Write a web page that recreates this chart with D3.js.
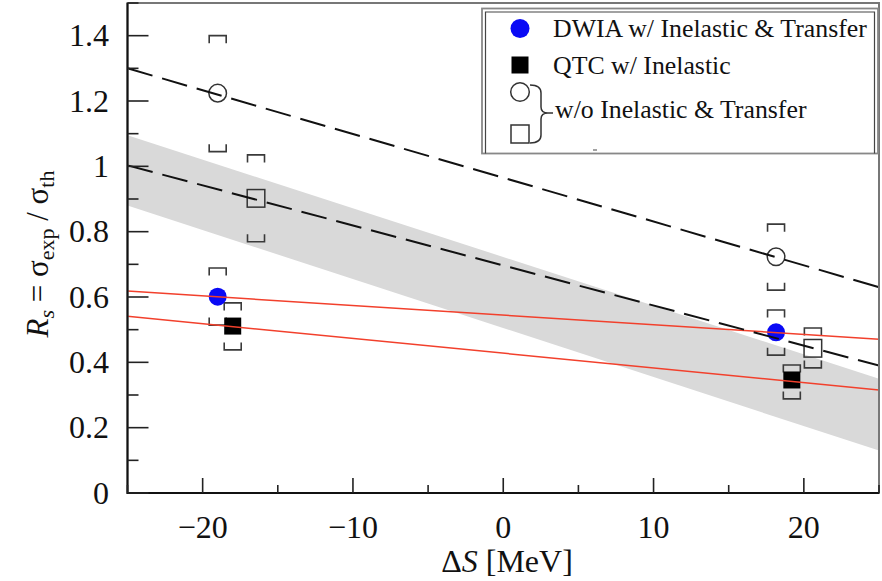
<!DOCTYPE html>
<html>
<head>
<meta charset="utf-8">
<script src="https://cdn.jsdelivr.net/npm/d3@7"></script>
<style>
  html, body { margin: 0; padding: 0; background: #fff; }
  svg { display: block; }
</style>
</head>
<body>
<svg id="chart" width="882" height="581" font-family="'Liberation Serif', 'Times New Roman', Times, serif"></svg>
<script>
// ---- data ----
const xTicksMajor = [-20, -10, 0, 10, 20];
const xTicksMinor = [-25, -15, -5, 5, 15, 25];
const xTickLabels = ["\u221220", "\u221210", "0", "10", "20"];
const yTicksMajor = [0, 0.2, 0.4, 0.6, 0.8, 1.0, 1.2, 1.4];
const yTicksMinor = [0.1, 0.3, 0.5, 0.7, 0.9, 1.1, 1.3, 1.5];
const yTickLabels = ["0", "0.2", "0.4", "0.6", "0.8", "1", "1.2", "1.4"];

// DWIA w/ Inelastic & Transfer (filled blue circles)
const dwiaX = [-19.0, 18.15];
const dwiaY = [0.601, 0.492];
const dwiaLo = [0.514, 0.422];
const dwiaHi = [0.689, 0.560];
// QTC w/ Inelastic (filled black squares)
const qtcX = [-18.0, 19.2];
const qtcY = [0.511, 0.346];
const qtcLo = [0.438, 0.288];
const qtcHi = [0.582, 0.392];
// w/o Inelastic & Transfer : open circles (DWIA)
const woCircX = [-19.0, 18.15];
const woCircY = [1.224, 0.723];
const woCircLo = [1.045, 0.621];
const woCircHi = [1.400, 0.823];
// w/o Inelastic & Transfer : open squares (QTC)
const woSqX = [-16.45, 20.6];
const woSqY = [0.902, 0.443];
const woSqLo = [0.769, 0.383];
const woSqHi = [1.035, 0.505];

// straight-line fits, evaluated at the axis ends
const lineX = [-25, 25];
const dashUpperY = [1.300, 0.630];
const dashLowerY = [1.003, 0.390];
const redUpperY = [0.618, 0.471];
const redLowerY = [0.541, 0.315];
const bandUpperY = [1.095, 0.350];
const bandLowerY = [0.880, 0.130];

const legendLabels = ["DWIA w/ Inelastic & Transfer", "QTC w/ Inelastic", "w/o Inelastic & Transfer"];

// ---- layout ----
const L = 127.5, R = 879, T = 3, B = 493;
const x = d3.scaleLinear().domain([-25, 25]).range([L, R]);
const y = d3.scaleLinear().domain([0, 1.5]).range([B, T]);
const FONT = "'Liberation Serif', 'Times New Roman', Times, serif";

const svg = d3.select("#chart");
svg.append("defs").append("clipPath").attr("id", "clip")
  .append("rect").attr("x", L).attr("y", T).attr("width", R - L).attr("height", B - T);
const plot = svg.append("g").attr("clip-path", "url(#clip)");

// band
const bandData = lineX.map((d, i) => ({x: d, lo: bandLowerY[i], hi: bandUpperY[i]}));
plot.append("path")
  .attr("d", d3.area().x(d => x(d.x)).y0(d => y(d.lo)).y1(d => y(d.hi))(bandData))
  .attr("fill", "#d9d9d9");

// error caps
function caps(xs, lo, hi, halfW) {
  const g = plot.append("g").attr("fill", "none").attr("stroke", "#3a3a3a").attr("stroke-width", 1.6);
  const leg = 7.5;
  xs.forEach((xv, i) => {
    const cx = x(xv), yh = y(hi[i]), yl = y(lo[i]);
    g.append("path").attr("d", `M${cx - halfW},${yh + leg}V${yh}H${cx + halfW}V${yh + leg}`);
    g.append("path").attr("d", `M${cx - halfW},${yl - leg}V${yl}H${cx + halfW}V${yl - leg}`);
  });
}
caps(woCircX, woCircLo, woCircHi, 8.5);
caps(woSqX, woSqLo, woSqHi, 8.5);
caps(dwiaX, dwiaLo, dwiaHi, 8.5);
caps(qtcX, qtcLo, qtcHi, 8.5);

// markers
const mk = plot.append("g");
woCircX.forEach((xv, i) => mk.append("circle").attr("cx", x(xv)).attr("cy", y(woCircY[i])).attr("r", 8.8)
  .attr("fill", "none").attr("stroke", "#333").attr("stroke-width", 1.5));
woSqX.forEach((xv, i) => mk.append("rect").attr("x", x(xv) - 8.8).attr("y", y(woSqY[i]) - 8.8)
  .attr("width", 17.6).attr("height", 17.6).attr("fill", "none").attr("stroke", "#333").attr("stroke-width", 1.5));
dwiaX.forEach((xv, i) => mk.append("circle").attr("cx", x(xv)).attr("cy", y(dwiaY[i])).attr("r", 9)
  .attr("fill", "#0a0af5"));
qtcX.forEach((xv, i) => mk.append("rect").attr("x", x(xv) - 8.5).attr("y", y(qtcY[i]) - 8.5)
  .attr("width", 17).attr("height", 17).attr("fill", "#000"));

// lines
const ln = d3.line().x(d => x(d[0])).y(d => y(d[1]));
function drawLine(ys, color, w, dash) {
  const p = plot.append("path").attr("d", ln(lineX.map((d, i) => [d, ys[i]])))
    .attr("fill", "none").attr("stroke", color).attr("stroke-width", w);
  if (dash) p.attr("stroke-dasharray", dash);
}
drawLine(redUpperY, "#f2402c", 1.5);
drawLine(redLowerY, "#f2402c", 1.5);
drawLine(dashUpperY, "#111", 2, "26,10");
drawLine(dashLowerY, "#111", 2, "26,10");

// frame
svg.append("rect").attr("x", L).attr("y", T).attr("width", R - L).attr("height", B - T)
  .attr("fill", "none").attr("stroke", "#777").attr("stroke-width", 2);
svg.append("path").attr("d", `M${L},${T}V${B}H${R}`).attr("fill", "none").attr("stroke", "#111").attr("stroke-width", 2);

// ticks
const tk = svg.append("g").attr("stroke", "#222").attr("stroke-width", 1.6);
yTicksMajor.forEach(v => tk.append("line").attr("x1", L).attr("x2", L + 21).attr("y1", y(v)).attr("y2", y(v)));
yTicksMinor.forEach(v => tk.append("line").attr("x1", L).attr("x2", L + 11).attr("y1", y(v)).attr("y2", y(v)));
xTicksMajor.forEach(v => tk.append("line").attr("x1", x(v)).attr("x2", x(v)).attr("y1", B).attr("y2", B - 15));
xTicksMinor.forEach(v => tk.append("line").attr("x1", x(v)).attr("x2", x(v)).attr("y1", B).attr("y2", B - 8));

function txt(sel) { return sel.append("text").attr("font-family", FONT).attr("fill", "#111"); }

// tick labels
yTicksMajor.forEach((v, i) => txt(svg).attr("x", 109).attr("y", y(v) + 10.5)
  .attr("text-anchor", "end").attr("font-size", 32).text(yTickLabels[i]));
xTicksMajor.forEach((v, i) => txt(svg).attr("x", x(v)).attr("y", 538)
  .attr("text-anchor", "middle").attr("font-size", 32).text(xTickLabels[i]));

// axis titles
const xt = txt(svg).attr("x", 507).attr("y", 572).attr("text-anchor", "middle").attr("font-size", 32);
xt.append("tspan").text("\u0394");
xt.append("tspan").attr("font-style", "italic").text("S");
xt.append("tspan").text(" [MeV]");

const yt = txt(svg).attr("transform", "translate(48,254) rotate(-90)")
  .attr("text-anchor", "middle").attr("font-size", 31);
yt.append("tspan").attr("font-style", "italic").text("R");
yt.append("tspan").attr("font-style", "italic").attr("font-size", 22).attr("dy", 6).text("s");
yt.append("tspan").attr("dy", -6).text(" = \u03c3");
yt.append("tspan").attr("font-size", 22).attr("dy", 6).text("exp");
yt.append("tspan").attr("dy", -6).text(" / \u03c3");
yt.append("tspan").attr("font-size", 22).attr("dy", 6).text("th");

// legend
const lg = svg.append("g");
lg.append("rect").attr("x", 482).attr("y", 8.5).attr("width", 396).attr("height", 145)
  .attr("fill", "#fff").attr("stroke", "#888").attr("stroke-width", 1.8);
lg.append("path").attr("d", "M485.5,153.5V12H874.5V153.5").attr("fill", "none").attr("stroke", "#444").attr("stroke-width", 1.2);
lg.append("circle").attr("cx", 520).attr("cy", 28.5).attr("r", 9.5).attr("fill", "#0a0af5");
lg.append("rect").attr("x", 511.5).attr("y", 56.5).attr("width", 17).attr("height", 17).attr("fill", "#000");
lg.append("circle").attr("cx", 520).attr("cy", 92).attr("r", 9.3).attr("fill", "none").attr("stroke", "#333").attr("stroke-width", 1.5);
lg.append("rect").attr("x", 511).attr("y", 125).attr("width", 18).attr("height", 18).attr("fill", "none").attr("stroke", "#333").attr("stroke-width", 1.5);
lg.append("path").attr("d", "M530,85Q541,85 541,93V107Q541,113 548,113Q541,113 541,119V135Q541,143 530,143M548,113H553")
  .attr("fill", "none").attr("stroke", "#333").attr("stroke-width", 1.5);
lg.append("line").attr("x1", 593).attr("x2", 597).attr("y1", 150).attr("y2", 150).attr("stroke", "#666").attr("stroke-width", 1.2);
const lgY = [37, 74, 118];
const lgX = [553, 553, 555];
legendLabels.forEach((t, i) => txt(lg).attr("x", lgX[i]).attr("y", lgY[i]).attr("font-size", 25.8).text(t));
</script>
</body>
</html>
